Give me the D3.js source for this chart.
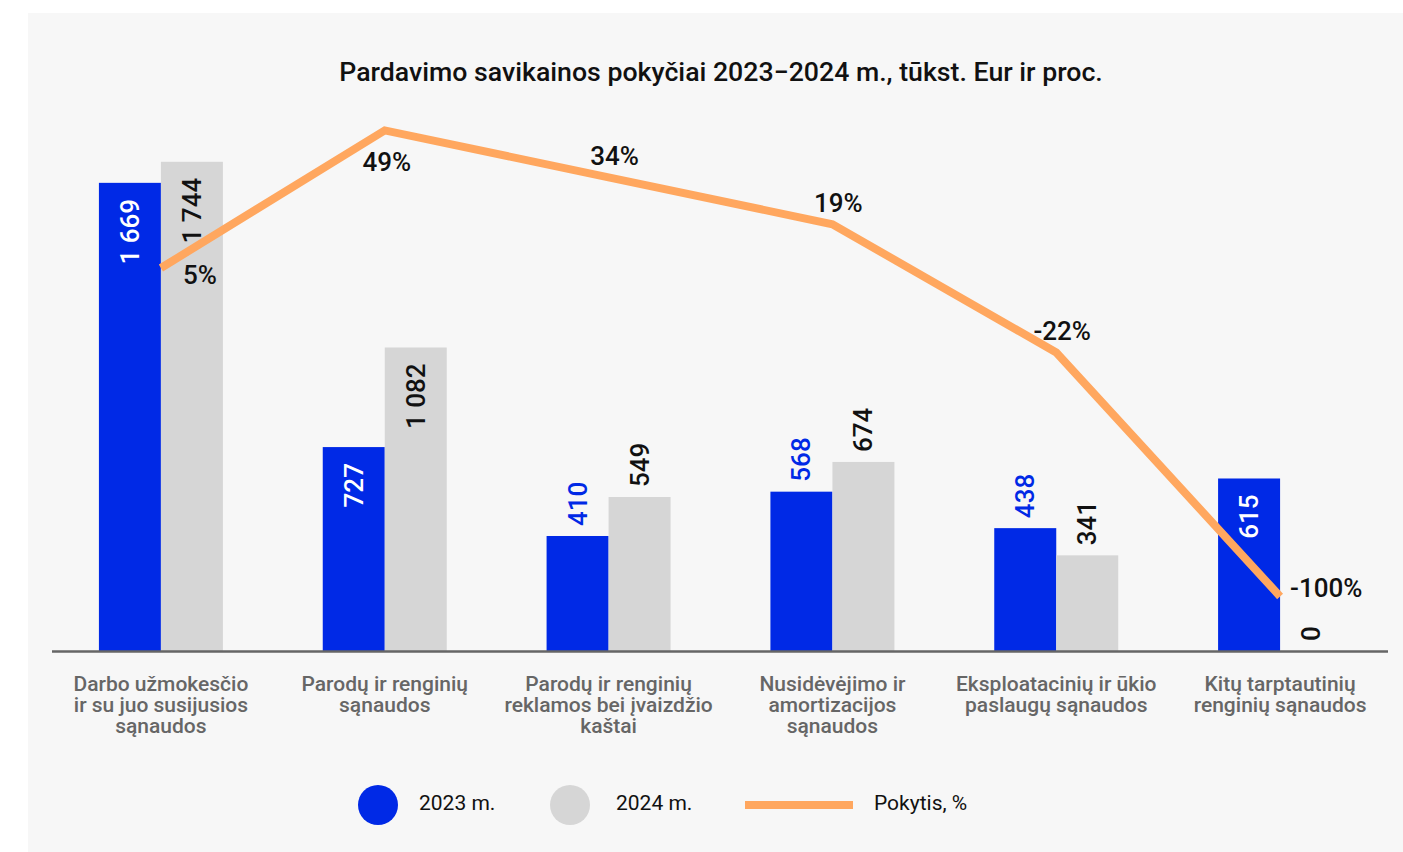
<!DOCTYPE html>
<html lang="lt">
<head>
<meta charset="utf-8">
<title>Pardavimo savikainos pokyčiai</title>
<script src="https://cdn.jsdelivr.net/npm/d3@7"></script>
<style>
  body { margin: 0; background: #fff; font-family: Roboto, "Noto Sans", sans-serif; }
</style>
</head>
<body>
<svg id="chart" width="1403" height="852"></svg>
<script>
// --- data ---
var categories = [
  ["Darbo užmokesčio", "ir su juo susijusios", "sąnaudos"],
  ["Parodų ir renginių", "sąnaudos"],
  ["Parodų ir renginių", "reklamos bei įvaizdžio", "kaštai"],
  ["Nusidėvėjimo ir", "amortizacijos", "sąnaudos"],
  ["Eksploatacinių ir ūkio", "paslaugų sąnaudos"],
  ["Kitų tarptautinių", "renginių sąnaudos"]
];
var values2023 = [1669, 727, 410, 568, 438, 615];
var values2024 = [1744, 1082, 549, 674, 341, 0];
var change = [5, 49, 34, 19, -22, -100];
var seriesNames = ["2023 m.", "2024 m.", "Pokytis, %"];

var BLUE = "#0029e6", GREY = "#d6d6d6", ORANGE = "#ffa75f";

var svg = d3.select("#chart");

// background panel
svg.append("rect").attr("x", 28).attr("y", 13).attr("width", 1375).attr("height", 839)
  .attr("fill", "#f7f7f7");

svg.append("text")
  .attr("x", 721).attr("y", 72)
  .attr("text-anchor", "middle").attr("dominant-baseline", "central")
  .attr("font-size", 26.7).attr("font-weight", 500).attr("fill", "#111")
  .text("Pardavimo savikainos pokyčiai 2023−2024 m., tūkst. Eur ir proc.");

var idx = d3.range(categories.length);
var x = d3.scaleBand().domain(idx).range([49, 1392]).paddingInner(0.45).paddingOuter(0.225);
var bw = 62;
var y = d3.scaleLinear().domain([0, 2000]).range([651, 90]);
var y2 = d3.scaleLinear().domain([-120, 60]).range([659, 96]);
function cx(i) { return x(i) + x.bandwidth() / 2; }

// bars
var g = svg.append("g");
g.selectAll("rect.b23").data(values2023).enter().append("rect")
  .attr("x", function(d, i) { return cx(i) - bw; })
  .attr("y", function(d) { return y(d); })
  .attr("width", bw).attr("height", function(d) { return y(0) - y(d); })
  .attr("fill", BLUE);
g.selectAll("rect.b24").data(values2024).enter().append("rect")
  .attr("x", function(d, i) { return cx(i); })
  .attr("y", function(d) { return y(d); })
  .attr("width", bw).attr("height", function(d) { return y(0) - y(d); })
  .attr("fill", GREY);

var fmt = function(v) { return d3.format(",")(v).replace(/,/g, " "); };

// bar value labels, rotated
function barLabels(data, offset, insideMin, insideColor, outsideColor) {
  g.selectAll(null).data(data).enter().append("text")
    .attr("transform", function(d, i) {
      var inside = d >= insideMin;
      var px = cx(i) + offset;
      var py = inside ? y(d) + 16 : y(d) - 10;
      return "translate(" + px + "," + py + ") rotate(-90)";
    })
    .attr("text-anchor", function(d) { return d >= insideMin ? "end" : "start"; })
    .attr("dominant-baseline", "central")
    .attr("font-size", 26).attr("font-weight", 500)
    .attr("fill", function(d) { return d >= insideMin ? insideColor : outsideColor; })
    .text(function(d) { return fmt(d); });
}
barLabels(values2023, -bw / 2, 600, "#fff", BLUE);
barLabels(values2024, bw / 2, 1000, "#111", "#111");

// axis line
svg.append("line").attr("x1", 52).attr("x2", 1388).attr("y1", 651.5).attr("y2", 651.5)
  .attr("stroke", "#666").attr("stroke-width", 2.5);

// category labels
var cat = svg.append("g");
categories.forEach(function(lines, i) {
  var t = cat.append("text").attr("text-anchor", "middle")
    .attr("font-size", 21).attr("font-weight", 500).attr("fill", "#666");
  lines.forEach(function(l, k) {
    t.append("tspan").attr("x", cx(i)).attr("y", 691 + k * 21).text(l);
  });
});

// change line
var line = d3.line().x(function(d, i) { return cx(i); }).y(function(d) { return y2(d); });
svg.append("path").datum(change).attr("d", line)
  .attr("fill", "none").attr("stroke", ORANGE).attr("stroke-width", 8);

var maxI = d3.maxIndex(change), last = change.length - 1;
svg.selectAll(null).data(change).enter().append("text")
  .attr("x", function(d, i) {
    if (i === 0) return cx(i) + 22;
    if (i === last) return cx(i) + 10;
    if (i === maxI) return cx(i) + 2;
    return cx(i) + 6;
  })
  .attr("y", function(d, i) {
    if (i === 0) return y2(d) + 7;
    if (i === last) return y2(d) - 8;
    if (i === maxI) return y2(d) + 32;
    return y2(d) - 21;
  })
  .attr("text-anchor", function(d, i) { return (i === 0 || i === last) ? "start" : "middle"; })
  .attr("dominant-baseline", "central")
  .attr("font-size", 26).attr("font-weight", 500).attr("fill", "#111")
  .text(function(d) { return d + "%"; });

// legend
var lg = svg.append("g");
lg.append("circle").attr("cx", 378).attr("cy", 805).attr("r", 20).attr("fill", BLUE);
lg.append("text").attr("x", 419).attr("y", 803).attr("dominant-baseline", "central")
  .attr("font-size", 21).attr("fill", "#111").text(seriesNames[0]);
lg.append("circle").attr("cx", 570).attr("cy", 805).attr("r", 20).attr("fill", GREY);
lg.append("text").attr("x", 616).attr("y", 803).attr("dominant-baseline", "central")
  .attr("font-size", 21).attr("fill", "#111").text(seriesNames[1]);
lg.append("line").attr("x1", 745).attr("x2", 853).attr("y1", 805).attr("y2", 805)
  .attr("stroke", ORANGE).attr("stroke-width", 8);
lg.append("text").attr("x", 874).attr("y", 803).attr("dominant-baseline", "central")
  .attr("font-size", 21).attr("fill", "#111").text(seriesNames[2]);
</script>
</body>
</html>
